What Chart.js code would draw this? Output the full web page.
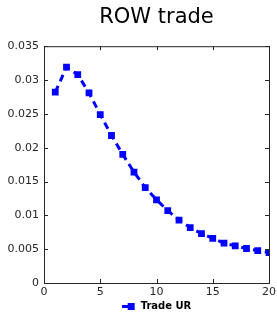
<!DOCTYPE html>
<html lang="en">
<head>
    <meta charset="UTF-8">
    <title>ROW trade</title>
    <script src="https://cdn.jsdelivr.net/npm/chart.js"></script>
    <style>
        body { margin: 0; background: #fff; }
        #wrap { width: 277px; height: 315px; }
    </style>
</head>
<body>
    <div id="wrap"><canvas id="rowChart"></canvas></div>
    <script>
        // values
        const horizon = [1, 2, 3, 4, 5, 6, 7, 8, 9, 10, 11, 12, 13, 14, 15, 16, 17, 18, 19, 20];
        const tradeUR = [0.0282, 0.0319, 0.0308, 0.0281, 0.0249, 0.0218, 0.0190, 0.0164, 0.0141, 0.0123,
                         0.0107, 0.0093, 0.0082, 0.0073, 0.0066, 0.0059, 0.0055, 0.0051, 0.0048, 0.0045];
        const xTicks = [0, 5, 10, 15, 20];
        const yTicks = [0, 0.005, 0.01, 0.015, 0.02, 0.025, 0.03, 0.035];

        const axisColor = '#262626';

        // legend marker: short dashed line with a square
        const legendIcon = document.createElement('canvas');
        legendIcon.width = 14;
        legendIcon.height = 8;
        (function () {
            const g = legendIcon.getContext('2d');
            g.fillStyle = '#0000ff';
            g.fillRect(0, 3, 9, 3);
            g.fillRect(6, 1, 7, 7);
        })();

        // box frame with inward ticks on all four sides
        const frameTicks = {
            id: 'frameTicks',
            afterDraw(chart) {
                const { ctx, chartArea: a, scales } = chart;
                ctx.save();
                ctx.strokeStyle = axisColor;
                ctx.lineWidth = 1;
                ctx.strokeRect(a.left + 0.5, a.top + 0.5, a.right - a.left, a.bottom - a.top);
                ctx.beginPath();
                xTicks.forEach(v => {
                    const px = Math.round(scales.x.getPixelForValue(v)) + 0.5;
                    ctx.moveTo(px, a.bottom); ctx.lineTo(px, a.bottom - 4);
                    ctx.moveTo(px, a.top); ctx.lineTo(px, a.top + 4);
                });
                yTicks.forEach(v => {
                    const py = Math.round(scales.y.getPixelForValue(v)) + 0.5;
                    ctx.moveTo(a.left, py); ctx.lineTo(a.left + 4, py);
                    ctx.moveTo(a.right, py); ctx.lineTo(a.right - 4, py);
                });
                ctx.stroke();
                ctx.restore();
            }
        };

        const ctx = document.getElementById('rowChart').getContext('2d');
        new Chart(ctx, {
            type: 'line',
            data: {
                labels: horizon,
                datasets: [{
                    label: 'Trade UR',
                    data: horizon.map((h, i) => ({ x: h, y: tradeUR[i] })),
                    borderColor: '#0000ff',
                    backgroundColor: '#0000ff',
                    borderWidth: 3,
                    borderDash: [7, 5],
                    pointStyle: 'rect',
                    pointRadius: 4.8,
                    pointBorderWidth: 0,
                    pointBackgroundColor: '#0000ff',
                    tension: 0
                }]
            },
            options: {
                responsive: true,
                maintainAspectRatio: false,
                animation: false,
                events: [],
                layout: { padding: { left: 0, right: 8, top: 0, bottom: -6 } },
                scales: {
                    x: {
                        type: 'linear',
                        min: 0,
                        max: 20,
                        afterBuildTicks: s => { s.ticks = xTicks.map(v => ({ value: v })); },
                        afterFit: s => { s.height = 16; s.paddingRight = 0; s.paddingLeft = 0; },
                        grid: { display: false, drawTicks: false },
                        border: { display: false },
                        ticks: {
                            padding: 3,
                            color: axisColor,
                            font: { family: 'DejaVu Sans', size: 11 },
                            maxRotation: 0
                        }
                    },
                    y: {
                        min: 0,
                        max: 0.035,
                        afterBuildTicks: s => { s.ticks = yTicks.map(v => ({ value: v })); },
                        afterFit: s => { s.width = 44; },
                        grid: { display: false, drawTicks: false },
                        border: { display: false },
                        ticks: {
                            padding: 5,
                            color: axisColor,
                            font: { family: 'DejaVu Sans', size: 11 },
                            callback: v => String(Number(v.toFixed(3)))
                        }
                    }
                },
                plugins: {
                    title: {
                        display: true,
                        text: 'ROW trade',
                        fullSize: false,
                        color: '#000',
                        font: { family: 'DejaVu Sans', size: 21, weight: 'normal' },
                        padding: { top: 5, bottom: 16 }
                    },
                    legend: {
                        position: 'bottom',
                        fullSize: false,
                        labels: {
                            usePointStyle: true,
                            pointStyleWidth: 14,
                            padding: 2,
                            color: '#000',
                            font: { family: 'DejaVu Sans', size: 10, weight: 'bold' },
                            generateLabels: chart => chart.data.datasets.map((d, i) => ({
                                text: d.label,
                                pointStyle: legendIcon,
                                datasetIndex: i,
                                fontColor: '#000',
                                lineWidth: 0
                            }))
                        }
                    },
                    tooltip: { enabled: false }
                }
            },
            plugins: [frameTicks]
        });
    </script>
</body>
</html>
